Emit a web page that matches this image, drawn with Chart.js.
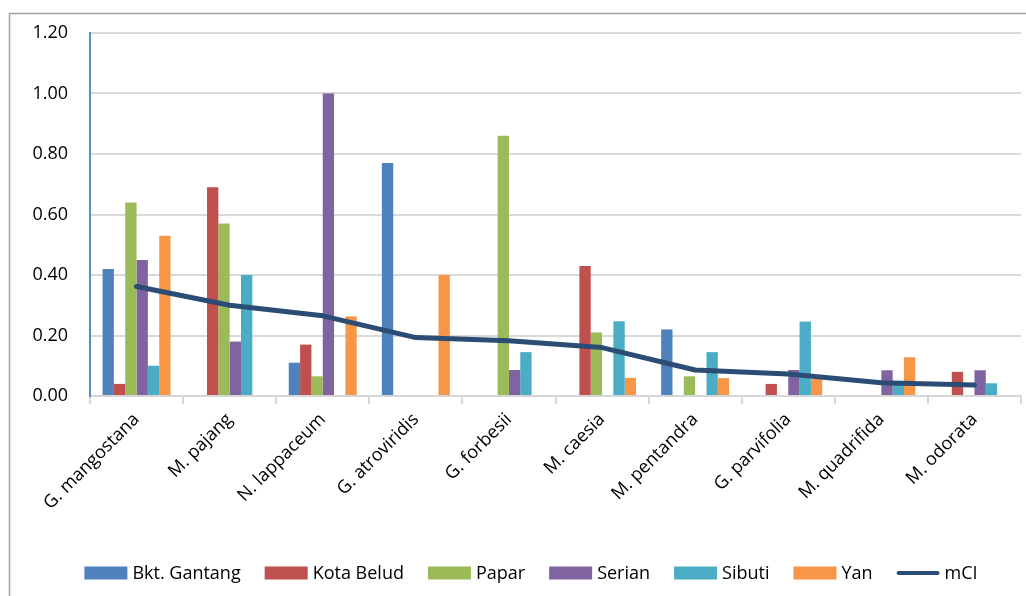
<!DOCTYPE html>
<html>
<head>
<meta charset="utf-8">
<script src="https://cdn.jsdelivr.net/npm/chart.js@4/dist/chart.umd.min.js"></script>
<style>
  html, body { margin: 0; padding: 0; background: #ffffff; }
  #wrap { width: 1026px; height: 596px; }
</style>
</head>
<body>
<div id="wrap"><canvas id="chart" width="1026" height="596"></canvas></div>
<script>
// Species (categories)
const species = ['G. mangostana', 'M. pajang', 'N. lappaceum', 'G. atroviridis', 'G. forbesii',
                 'M. caesia', 'M. pentandra', 'G. parvifolia', 'M. quadrifida', 'M. odorata'];

// Values per site (null = no bar)
const bktGantang = [0.42, null, 0.11, 0.77, null, null, 0.22, null, null, null];
const kotaBelud  = [0.04, 0.69, 0.17, null, null, 0.43, null, 0.04, null, 0.08];
const papar      = [0.64, 0.57, 0.065, null, 0.86, 0.21, 0.065, null, null, null];
const serian     = [0.45, 0.18, 1.00, null, 0.086, null, null, 0.086, 0.085, 0.085];
const sibuti     = [0.10, 0.40, null, null, 0.145, 0.247, 0.145, 0.246, 0.045, 0.042];
const yan        = [0.53, null, 0.263, 0.40, null, 0.06, 0.059, 0.056, 0.128, null];

// Mean value line
const mCI = [0.362, 0.30, 0.265, 0.193, 0.183, 0.16, 0.086, 0.073, 0.044, 0.036];

// Y axis ticks
const yTicks = [0, 0.2, 0.4, 0.6, 0.8, 1.0, 1.2];

const FONT = '"Open Sans", "Liberation Sans", sans-serif';

function bar(label, data, color) {
  return {
    type: 'bar', label, data, backgroundColor: color,
    borderWidth: 0, order: 1,
    categoryPercentage: 0.73, barPercentage: 1.0
  };
}

// White background and thin grey frame around the chart
const framePlugin = {
  id: 'frame',
  beforeDraw(chart) {
    const ctx = chart.ctx;
    ctx.save();
    ctx.fillStyle = '#ffffff';
    ctx.fillRect(0, 0, chart.width, chart.height);
    ctx.strokeStyle = '#a3a3a3';
    ctx.lineWidth = 1.5;
    ctx.strokeRect(9.5, 13.5, chart.width + 20, chart.height + 20);
    ctx.restore();
  }
};

// Legend row under the axis labels
const legendPlugin = {
  id: 'rowLegend',
  afterDraw(chart) {
    const ctx = chart.ctx;
    const items = chart.data.datasets;
    const boxW = 43, boxH = 13, textGap = 5, itemGap = 24, cy = 573;
    ctx.save();
    ctx.font = '18px ' + FONT;
    ctx.textBaseline = 'middle';
    const widths = items.map(d => boxW + textGap + ctx.measureText(d.label).width);
    const total = widths.reduce((a, b) => a + b, 0) + itemGap * (items.length - 1);
    let x = 531 - total / 2;
    items.forEach((d, i) => {
      if (d.type === 'line') {
        ctx.strokeStyle = d.borderColor;
        ctx.lineWidth = 4;
        ctx.lineCap = 'round';
        ctx.beginPath();
        ctx.moveTo(x + 2, cy);
        ctx.lineTo(x + boxW - 2, cy);
        ctx.stroke();
      } else {
        ctx.fillStyle = d.backgroundColor;
        ctx.fillRect(x, cy - boxH / 2, boxW, boxH);
      }
      ctx.fillStyle = '#000000';
      ctx.textAlign = 'left';
      ctx.fillText(d.label, x + boxW + textGap, cy + 1);
      x += widths[i] + itemGap;
    });
    ctx.restore();
  }
};

new Chart(document.getElementById('chart'), {
  data: {
    labels: species,
    datasets: [
      bar('Bkt. Gantang', bktGantang, '#4F81BD'),
      bar('Kota Belud', kotaBelud, '#C0504D'),
      bar('Papar', papar, '#9BBB59'),
      bar('Serian', serian, '#8064A2'),
      bar('Sibuti', sibuti, '#4BACC6'),
      bar('Yan', yan, '#F79646'),
      {
        type: 'line', label: 'mCI', data: mCI,
        borderColor: '#2B4C74', backgroundColor: '#2B4C74',
        borderWidth: 5, pointRadius: 0, tension: 0,
        borderCapStyle: 'round', borderJoinStyle: 'round', order: 0
      }
    ]
  },
  options: {
    responsive: false,
    animation: false,
    devicePixelRatio: 1,
    layout: { padding: { left: 9, top: 33, right: 5, bottom: 30 } },
    plugins: { legend: { display: false }, tooltip: { enabled: false } },
    scales: {
      x: {
        offset: true,
        afterFit(s) { s.height = 170; },
        grid: {
          offset: true, drawOnChartArea: false, drawTicks: true,
          tickLength: 8, color: '#d6d6d6', lineWidth: 2
        },
        border: { display: true, color: '#d6d6d6', width: 2 },
        ticks: {
          minRotation: 45, maxRotation: 45, autoSkip: false, padding: 5,
          color: '#000000', font: { family: FONT, size: 18 }
        }
      },
      y: {
        min: 0, max: 1.2,
        afterFit(s) { s.width = 81; },
        afterBuildTicks(s) { s.ticks = yTicks.map(v => ({ value: v })); },
        grid: { drawTicks: false, color: '#d9d9d9', lineWidth: 2 },
        border: { display: true, color: '#5B8DCB', width: 2 },
        ticks: {
          padding: 22, color: '#000000',
          font: { family: FONT, size: 18 },
          callback: v => Number(v).toFixed(2)
        }
      }
    }
  },
  plugins: [framePlugin, legendPlugin]
});
</script>
</body>
</html>
